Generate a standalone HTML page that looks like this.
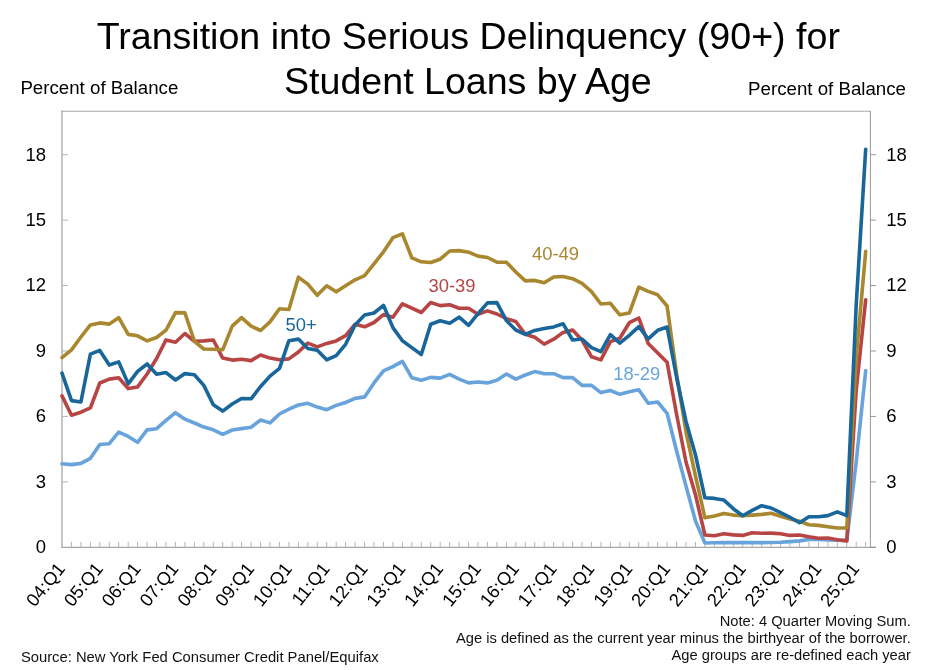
<!DOCTYPE html>
<html><head><meta charset="utf-8"><title>chart</title>
<style>
html,body{margin:0;padding:0;background:#fff;}
body{width:930px;height:670px;overflow:hidden;font-family:"Liberation Sans",sans-serif;}
svg{display:block;will-change:transform;font-family:"Liberation Sans",sans-serif;}
.ser{fill:none;stroke-width:3.6;stroke-linejoin:round;stroke-linecap:round;}
</style></head><body>
<svg width="930" height="670" viewBox="0 0 930 670">
<rect width="930" height="670" fill="#fff"/>
<g font-size="37.6" fill="#000" text-anchor="middle">
<text x="468.3" y="49.4">Transition into Serious Delinquency (90+) for</text>
<text x="467.9" y="94.4">Student Loans by Age</text>
</g>
<g font-size="18.7" fill="#000">
<text x="20.4" y="93.8">Percent of Balance</text>
<text x="906" y="94.5" text-anchor="end">Percent of Balance</text>
</g>
<g stroke="#a6a6a6" stroke-width="1.3" fill="none">
<line x1="62" y1="110.7" x2="62" y2="547.9"/>
<line x1="61.4" y1="111.3" x2="870.8" y2="111.3" stroke-width="1.1"/>
<line x1="61.4" y1="547.3" x2="876" y2="547.3"/>
</g>
<g stroke="#8c8c8c" stroke-width="0.9" fill="none">
<line x1="870.4" y1="111" x2="870.4" y2="547.6"/>
</g>
<g stroke="#b4b4b4" stroke-width="1" fill="none"><line x1="71.45" y1="547.3" x2="71.45" y2="541.8"/><line x1="80.91" y1="547.3" x2="80.91" y2="541.8"/><line x1="90.37" y1="547.3" x2="90.37" y2="541.8"/><line x1="99.82" y1="547.3" x2="99.82" y2="541.8"/><line x1="109.28" y1="547.3" x2="109.28" y2="541.8"/><line x1="118.73" y1="547.3" x2="118.73" y2="541.8"/><line x1="128.19" y1="547.3" x2="128.19" y2="541.8"/><line x1="137.64" y1="547.3" x2="137.64" y2="541.8"/><line x1="147.09" y1="547.3" x2="147.09" y2="541.8"/><line x1="156.55" y1="547.3" x2="156.55" y2="541.8"/><line x1="166.00" y1="547.3" x2="166.00" y2="541.8"/><line x1="175.46" y1="547.3" x2="175.46" y2="541.8"/><line x1="184.92" y1="547.3" x2="184.92" y2="541.8"/><line x1="194.37" y1="547.3" x2="194.37" y2="541.8"/><line x1="203.82" y1="547.3" x2="203.82" y2="541.8"/><line x1="213.28" y1="547.3" x2="213.28" y2="541.8"/><line x1="222.74" y1="547.3" x2="222.74" y2="541.8"/><line x1="232.19" y1="547.3" x2="232.19" y2="541.8"/><line x1="241.65" y1="547.3" x2="241.65" y2="541.8"/><line x1="251.10" y1="547.3" x2="251.10" y2="541.8"/><line x1="260.56" y1="547.3" x2="260.56" y2="541.8"/><line x1="270.01" y1="547.3" x2="270.01" y2="541.8"/><line x1="279.47" y1="547.3" x2="279.47" y2="541.8"/><line x1="288.92" y1="547.3" x2="288.92" y2="541.8"/><line x1="298.38" y1="547.3" x2="298.38" y2="541.8"/><line x1="307.83" y1="547.3" x2="307.83" y2="541.8"/><line x1="317.28" y1="547.3" x2="317.28" y2="541.8"/><line x1="326.74" y1="547.3" x2="326.74" y2="541.8"/><line x1="336.19" y1="547.3" x2="336.19" y2="541.8"/><line x1="345.65" y1="547.3" x2="345.65" y2="541.8"/><line x1="355.11" y1="547.3" x2="355.11" y2="541.8"/><line x1="364.56" y1="547.3" x2="364.56" y2="541.8"/><line x1="374.01" y1="547.3" x2="374.01" y2="541.8"/><line x1="383.47" y1="547.3" x2="383.47" y2="541.8"/><line x1="392.93" y1="547.3" x2="392.93" y2="541.8"/><line x1="402.38" y1="547.3" x2="402.38" y2="541.8"/><line x1="411.83" y1="547.3" x2="411.83" y2="541.8"/><line x1="421.29" y1="547.3" x2="421.29" y2="541.8"/><line x1="430.75" y1="547.3" x2="430.75" y2="541.8"/><line x1="440.20" y1="547.3" x2="440.20" y2="541.8"/><line x1="449.66" y1="547.3" x2="449.66" y2="541.8"/><line x1="459.11" y1="547.3" x2="459.11" y2="541.8"/><line x1="468.56" y1="547.3" x2="468.56" y2="541.8"/><line x1="478.02" y1="547.3" x2="478.02" y2="541.8"/><line x1="487.48" y1="547.3" x2="487.48" y2="541.8"/><line x1="496.93" y1="547.3" x2="496.93" y2="541.8"/><line x1="506.38" y1="547.3" x2="506.38" y2="541.8"/><line x1="515.84" y1="547.3" x2="515.84" y2="541.8"/><line x1="525.30" y1="547.3" x2="525.30" y2="541.8"/><line x1="534.75" y1="547.3" x2="534.75" y2="541.8"/><line x1="544.20" y1="547.3" x2="544.20" y2="541.8"/><line x1="553.66" y1="547.3" x2="553.66" y2="541.8"/><line x1="563.12" y1="547.3" x2="563.12" y2="541.8"/><line x1="572.57" y1="547.3" x2="572.57" y2="541.8"/><line x1="582.02" y1="547.3" x2="582.02" y2="541.8"/><line x1="591.48" y1="547.3" x2="591.48" y2="541.8"/><line x1="600.94" y1="547.3" x2="600.94" y2="541.8"/><line x1="610.39" y1="547.3" x2="610.39" y2="541.8"/><line x1="619.85" y1="547.3" x2="619.85" y2="541.8"/><line x1="629.30" y1="547.3" x2="629.30" y2="541.8"/><line x1="638.75" y1="547.3" x2="638.75" y2="541.8"/><line x1="648.21" y1="547.3" x2="648.21" y2="541.8"/><line x1="657.66" y1="547.3" x2="657.66" y2="541.8"/><line x1="667.12" y1="547.3" x2="667.12" y2="541.8"/><line x1="676.58" y1="547.3" x2="676.58" y2="541.8"/><line x1="686.03" y1="547.3" x2="686.03" y2="541.8"/><line x1="695.49" y1="547.3" x2="695.49" y2="541.8"/><line x1="704.94" y1="547.3" x2="704.94" y2="541.8"/><line x1="714.39" y1="547.3" x2="714.39" y2="541.8"/><line x1="723.85" y1="547.3" x2="723.85" y2="541.8"/><line x1="733.30" y1="547.3" x2="733.30" y2="541.8"/><line x1="742.76" y1="547.3" x2="742.76" y2="541.8"/><line x1="752.22" y1="547.3" x2="752.22" y2="541.8"/><line x1="761.67" y1="547.3" x2="761.67" y2="541.8"/><line x1="771.12" y1="547.3" x2="771.12" y2="541.8"/><line x1="780.58" y1="547.3" x2="780.58" y2="541.8"/><line x1="790.03" y1="547.3" x2="790.03" y2="541.8"/><line x1="799.49" y1="547.3" x2="799.49" y2="541.8"/><line x1="808.95" y1="547.3" x2="808.95" y2="541.8"/><line x1="818.40" y1="547.3" x2="818.40" y2="541.8"/><line x1="827.86" y1="547.3" x2="827.86" y2="541.8"/><line x1="837.31" y1="547.3" x2="837.31" y2="541.8"/><line x1="846.76" y1="547.3" x2="846.76" y2="541.8"/><line x1="856.22" y1="547.3" x2="856.22" y2="541.8"/><line x1="865.67" y1="547.3" x2="865.67" y2="541.8"/><line x1="62" y1="481.87" x2="68" y2="481.87"/><line x1="62" y1="416.44" x2="68" y2="416.44"/><line x1="62" y1="351.01" x2="68" y2="351.01"/><line x1="62" y1="285.58" x2="68" y2="285.58"/><line x1="62" y1="220.15" x2="68" y2="220.15"/><line x1="62" y1="154.72" x2="68" y2="154.72"/></g>
<g stroke="#8c8c8c" stroke-width="0.9" fill="none"><line x1="870.4" y1="547.30" x2="876" y2="547.30"/><line x1="870.4" y1="481.87" x2="876" y2="481.87"/><line x1="870.4" y1="416.44" x2="876" y2="416.44"/><line x1="870.4" y1="351.01" x2="876" y2="351.01"/><line x1="870.4" y1="285.58" x2="876" y2="285.58"/><line x1="870.4" y1="220.15" x2="876" y2="220.15"/><line x1="870.4" y1="154.72" x2="876" y2="154.72"/></g>
<g font-size="18.5" fill="#000"><text x="46" y="553.1" text-anchor="end">0</text><text x="46" y="487.7" text-anchor="end">3</text><text x="46" y="422.2" text-anchor="end">6</text><text x="46" y="356.8" text-anchor="end">9</text><text x="46" y="291.4" text-anchor="end">12</text><text x="46" y="225.9" text-anchor="end">15</text><text x="46" y="160.5" text-anchor="end">18</text><text x="886.2" y="553.1">0</text><text x="886.2" y="487.7">3</text><text x="886.2" y="422.2">6</text><text x="886.2" y="356.8">9</text><text x="886.2" y="291.4">12</text><text x="886.2" y="225.9">15</text><text x="886.2" y="160.5">18</text></g>
<g font-size="18.3" fill="#000"><text transform="translate(66.0,569.0) rotate(-51)" text-anchor="end">04:Q1</text><text transform="translate(103.8,569.0) rotate(-51)" text-anchor="end">05:Q1</text><text transform="translate(141.6,569.0) rotate(-51)" text-anchor="end">06:Q1</text><text transform="translate(179.5,569.0) rotate(-51)" text-anchor="end">07:Q1</text><text transform="translate(217.3,569.0) rotate(-51)" text-anchor="end">08:Q1</text><text transform="translate(255.1,569.0) rotate(-51)" text-anchor="end">09:Q1</text><text transform="translate(292.9,569.0) rotate(-51)" text-anchor="end">10:Q1</text><text transform="translate(330.7,569.0) rotate(-51)" text-anchor="end">11:Q1</text><text transform="translate(368.6,569.0) rotate(-51)" text-anchor="end">12:Q1</text><text transform="translate(406.4,569.0) rotate(-51)" text-anchor="end">13:Q1</text><text transform="translate(444.2,569.0) rotate(-51)" text-anchor="end">14:Q1</text><text transform="translate(482.0,569.0) rotate(-51)" text-anchor="end">15:Q1</text><text transform="translate(519.8,569.0) rotate(-51)" text-anchor="end">16:Q1</text><text transform="translate(557.7,569.0) rotate(-51)" text-anchor="end">17:Q1</text><text transform="translate(595.5,569.0) rotate(-51)" text-anchor="end">18:Q1</text><text transform="translate(633.3,569.0) rotate(-51)" text-anchor="end">19:Q1</text><text transform="translate(671.1,569.0) rotate(-51)" text-anchor="end">20:Q1</text><text transform="translate(708.9,569.0) rotate(-51)" text-anchor="end">21:Q1</text><text transform="translate(746.8,569.0) rotate(-51)" text-anchor="end">22:Q1</text><text transform="translate(784.6,569.0) rotate(-51)" text-anchor="end">23:Q1</text><text transform="translate(822.4,569.0) rotate(-51)" text-anchor="end">24:Q1</text><text transform="translate(860.2,569.0) rotate(-51)" text-anchor="end">25:Q1</text></g>
<polyline class="ser" stroke="#68a4db" points="62.0,463.8 71.5,464.6 80.9,463.4 90.4,458.3 99.8,444.5 109.3,443.7 118.7,432.1 128.2,436.4 137.6,442.3 147.1,429.9 156.6,428.7 166.0,420.4 175.5,412.7 184.9,419.2 194.4,423.0 203.8,427.1 213.3,429.8 222.7,434.3 232.2,430.0 241.6,428.6 251.1,427.2 260.6,420.0 270.0,422.9 279.5,414.0 288.9,409.2 298.4,405.0 307.8,403.3 317.3,407.1 326.7,409.7 336.2,405.4 345.6,402.5 355.1,398.4 364.6,396.9 374.0,382.9 383.5,370.9 392.9,366.6 402.4,361.4 411.8,377.7 421.3,380.3 430.7,377.4 440.2,378.1 449.7,374.3 459.1,379.1 468.6,382.9 478.0,382.0 487.5,382.9 496.9,380.3 506.4,374.0 515.8,379.1 525.3,375.0 534.8,371.6 544.2,373.7 553.7,373.7 563.1,377.6 572.6,377.6 582.0,385.4 591.5,385.4 600.9,392.6 610.4,390.5 619.8,394.3 629.3,391.7 638.8,389.8 648.2,403.3 657.7,402.0 667.1,413.3 676.6,451.0 686.0,486.0 695.5,521.0 704.9,543.0 714.4,542.8 723.9,542.6 733.3,542.6 742.8,542.6 752.2,542.6 761.7,542.6 771.1,542.5 780.6,542.3 790.0,541.6 799.5,540.9 808.9,539.5 818.4,539.5 827.9,540.0 837.3,540.3 846.8,540.5 856.2,462.0 865.7,370.5"/>
<polyline class="ser" stroke="#b64544" points="62.0,395.9 71.5,415.2 80.9,412.2 90.4,407.8 99.8,383.0 109.3,379.1 118.7,377.8 128.2,388.6 137.6,386.9 147.1,374.0 156.6,358.5 166.0,339.9 175.5,342.2 184.9,333.5 194.4,341.3 203.8,340.9 213.3,340.0 222.7,358.1 232.2,360.1 241.6,359.3 251.1,360.6 260.6,355.0 270.0,358.1 279.5,359.8 288.9,358.9 298.4,352.0 307.8,343.1 317.3,346.9 326.7,343.4 336.2,340.9 345.6,335.7 355.1,324.2 364.6,326.8 374.0,322.5 383.5,314.6 392.9,317.2 402.4,303.8 411.8,308.2 421.3,312.5 430.7,302.5 440.2,305.6 449.7,304.8 459.1,308.2 468.6,308.3 478.0,314.2 487.5,310.9 496.9,314.0 506.4,318.6 515.8,321.5 525.3,334.3 534.8,337.2 544.2,344.1 553.7,339.2 563.1,332.4 572.6,330.0 582.0,340.0 591.5,356.8 600.9,359.9 610.4,341.6 619.8,338.2 629.3,322.7 638.8,318.0 648.2,343.4 657.7,352.9 667.1,362.3 676.6,414.5 686.0,462.0 695.5,495.0 704.9,535.0 714.4,535.7 723.9,533.7 733.3,534.9 742.8,535.4 752.2,532.8 761.7,533.3 771.1,533.1 780.6,533.7 790.0,535.4 799.5,535.0 808.9,536.8 818.4,538.3 827.9,538.0 837.3,539.7 846.8,540.9 856.2,390.0 865.7,299.8"/>
<polyline class="ser" stroke="#a8872e" points="62.0,357.6 71.5,349.9 80.9,337.0 90.4,324.9 99.8,322.9 109.3,324.1 118.7,317.7 128.2,334.4 137.6,335.8 147.1,340.9 156.6,337.5 166.0,330.1 175.5,312.6 184.9,312.9 194.4,341.3 203.8,349.0 213.3,349.3 222.7,349.8 232.2,326.2 241.6,317.6 251.1,326.2 260.6,330.5 270.0,321.9 279.5,308.7 288.9,309.5 298.4,277.2 307.8,284.1 317.3,295.3 326.7,285.8 336.2,291.8 345.6,285.8 355.1,279.8 364.6,275.7 374.0,263.9 383.5,251.8 392.9,237.7 402.4,233.8 411.8,257.8 421.3,261.8 430.7,262.5 440.2,259.2 449.7,251.0 459.1,250.6 468.6,252.2 478.0,256.1 487.5,257.5 496.9,262.2 506.4,262.3 515.8,272.0 525.3,280.9 534.8,280.4 544.2,282.7 553.7,277.0 563.1,276.5 572.6,278.7 582.0,283.4 591.5,291.6 600.9,304.0 610.4,303.3 619.8,314.8 629.3,313.1 638.8,287.1 648.2,291.4 657.7,294.8 667.1,306.0 676.6,374.0 686.0,432.0 695.5,476.0 704.9,517.8 714.4,516.1 723.9,513.4 733.3,515.1 742.8,515.8 752.2,515.1 761.7,514.4 771.1,513.2 780.6,516.3 790.0,519.0 799.5,521.2 808.9,524.7 818.4,525.4 827.9,526.8 837.3,528.0 846.8,528.0 856.2,358.0 865.7,251.4"/>
<polyline class="ser" stroke="#18669a" points="62.0,373.1 71.5,400.6 80.9,402.0 90.4,354.2 99.8,350.4 109.3,365.0 118.7,361.9 128.2,383.8 137.6,371.4 147.1,364.0 156.6,374.3 166.0,372.6 175.5,380.0 184.9,373.6 194.4,374.8 203.8,385.4 213.3,404.7 222.7,411.1 232.2,404.0 241.6,398.5 251.1,398.8 260.6,386.5 270.0,376.1 279.5,368.4 288.9,340.7 298.4,339.1 307.8,348.6 317.3,350.3 326.7,359.8 336.2,355.6 345.6,344.3 355.1,325.0 364.6,315.0 374.0,313.0 383.5,305.3 392.9,327.6 402.4,340.8 411.8,347.6 421.3,354.5 430.7,324.2 440.2,320.8 449.7,323.2 459.1,317.2 468.6,325.3 478.0,313.7 487.5,302.9 496.9,302.6 506.4,320.6 515.8,330.0 525.3,334.4 534.8,330.4 544.2,328.6 553.7,326.9 563.1,323.8 572.6,340.0 582.0,339.0 591.5,347.6 600.9,351.6 610.4,334.7 619.8,343.2 629.3,335.3 638.8,326.7 648.2,338.8 657.7,330.3 667.1,327.0 676.6,377.5 686.0,421.5 695.5,455.0 704.9,497.8 714.4,498.4 723.9,500.1 733.3,508.7 742.8,515.8 752.2,510.4 761.7,505.7 771.1,508.0 780.6,512.6 790.0,517.3 799.5,522.7 808.9,516.8 818.4,516.8 827.9,515.6 837.3,511.8 846.8,515.6 856.2,305.0 865.7,149.2"/>
<g font-size="18.4">
<text x="285.6" y="331" fill="#18669a">50+</text>
<text x="428.5" y="292" fill="#b64544">30-39</text>
<text x="532" y="260" fill="#a8872e">40-49</text>
<text x="613.2" y="380" fill="#68a4db">18-29</text>
</g>
<g font-size="14.7" fill="#111">
<text x="20.9" y="661.9" font-size="14.78">Source: New York Fed Consumer Credit Panel/Equifax</text>
<text x="910.8" y="625.8" text-anchor="end">Note: 4 Quarter Moving Sum.</text>
<text x="910.8" y="643" text-anchor="end">Age is defined as the current year minus the birthyear of the borrower.</text>
<text x="910.8" y="660.4" text-anchor="end">Age groups are re-defined each year</text>
</g>
</svg>
</body></html>
